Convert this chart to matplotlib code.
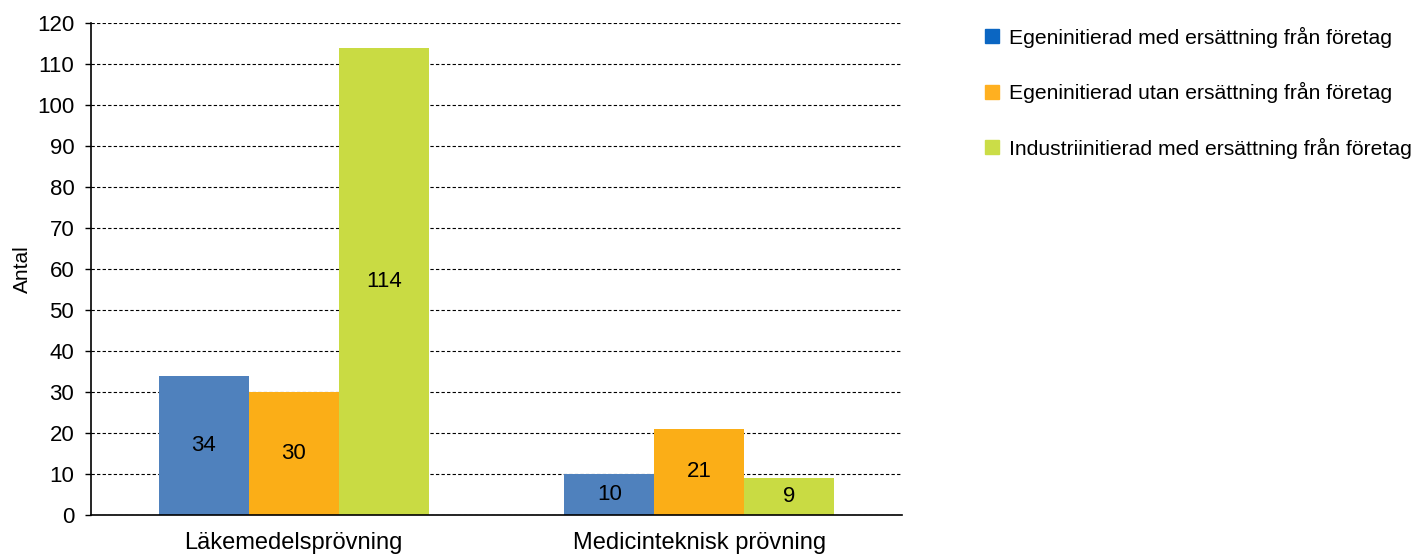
import matplotlib.pyplot as plt
import matplotlib.patches as mpatches
import numpy as np

plt.rcParams.update({
    "font.family": ["Liberation Sans", "DejaVu Sans"],
    "font.size": 16,
})

categories = ["Läkemedelsprövning", "Medicinteknisk prövning"]
series_names = [
    "Egeninitierad med ersättning från företag",
    "Egeninitierad utan ersättning från företag",
    "Industriinitierad med ersättning från företag",
]
med_ers = [34, 10]
utan_ers = [30, 21]
industri = [114, 9]

BAR_COLORS = ["#4f81bd", "#fbae17", "#c9db43"]
KEY_COLORS = ["#0b66c2", "#ffb020", "#cbdd47"]

fig = plt.figure(figsize=(14.17, 5.55), dpi=100)
ax = fig.add_axes([0.0642, 0.0721, 0.5724, 0.8865])

x = np.arange(len(categories))
w = 0.222
for i, vals in enumerate([med_ers, utan_ers, industri]):
    pos = x + (i - 1) * w
    ax.bar(pos, vals, width=w, color=BAR_COLORS[i], zorder=3)
    for p, v in zip(pos, vals):
        ax.text(p, v / 2, str(v), ha="center", va="center", fontsize=16,
                color="black", zorder=4)

ax.set_xlim(-0.5, 1.5)
ax.set_ylim(0, 120)
ax.set_yticks(range(0, 121, 10))
ax.set_xticks(x)
ax.set_xticklabels(categories, fontsize=17)
ax.tick_params(axis="x", length=0, pad=12)
ax.tick_params(axis="y", length=4, width=1, pad=8, labelsize=16)
ax.yaxis.grid(True, linestyle=(0, (3, 2)), color="black", linewidth=0.8, zorder=0)
ax.set_axisbelow(True)
for s in ["top", "right"]:
    ax.spines[s].set_visible(False)
ax.spines["left"].set_linewidth(1.2)
ax.spines["bottom"].set_linewidth(1.2)
ax.spines["bottom"].set_zorder(5)
ax.set_ylabel("Antal", fontsize=15, labelpad=4)

handles = [mpatches.Patch(color=c, label=n) for c, n in zip(KEY_COLORS, series_names)]
fig.legend(handles=handles, loc="upper left", bbox_to_anchor=(0.6895, 0.967),
           frameon=False, fontsize=15.2, handlelength=0.65, handleheight=0.65,
           handletextpad=0.45, labelspacing=1.63, borderaxespad=0)

fig.savefig("out.png", dpi=100)
